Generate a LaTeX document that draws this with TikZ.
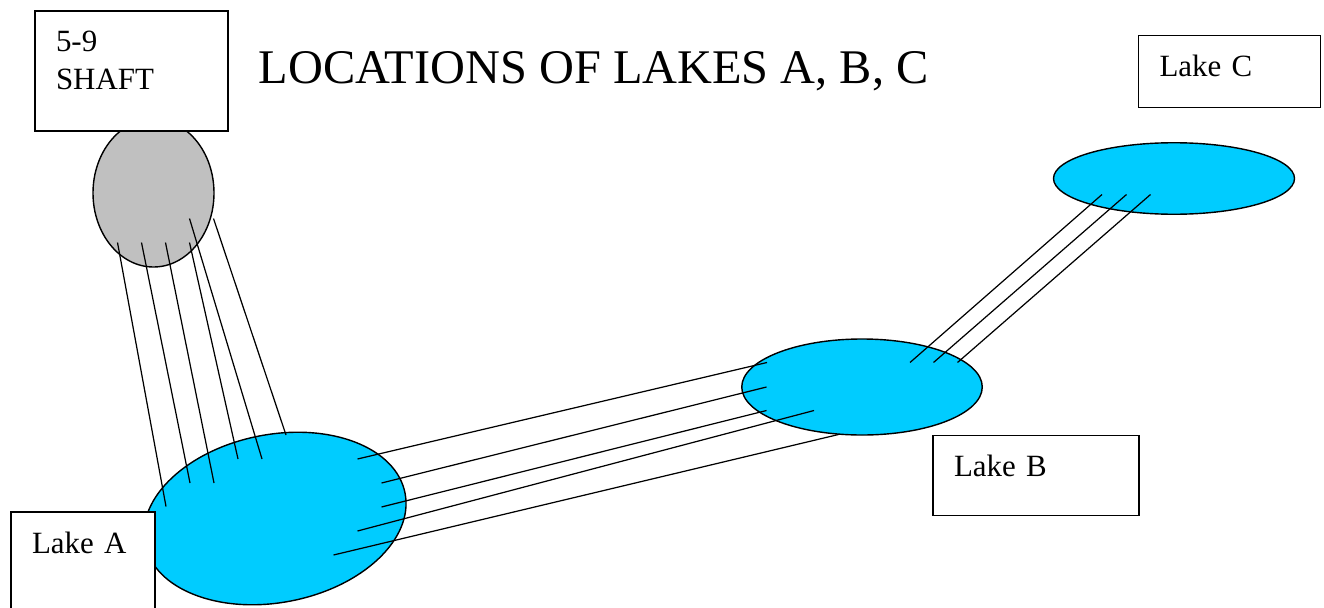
\documentclass[tikz,border=0pt]{standalone}
\usepackage{fontspec}
\setmainfont{Liberation Serif}
\usetikzlibrary{shapes.geometric,calc}
\definecolor{lakeblue}{HTML}{00CCFF}
\definecolor{shaftgray}{HTML}{C0C0C0}

\begin{document}
\begin{tikzpicture}[
  line width=0.8pt,
  lake/.style={ellipse, draw, line width=0.8pt, fill=lakeblue, inner sep=0pt},
  pit/.style={lake, fill=shaftgray},
  labelbox/.style={draw, fill=white, line width=0.8pt, align=left,
    inner xsep=0.42cm, inner ysep=0pt, font=\fontsize{17.6pt}{21.2pt}\selectfont},
  tie/.style={line width=0.7pt},
]
  \useasboundingbox (0,0) rectangle (26.48,12.14);

  % Shaft and lakes
  \node[pit, minimum width=2.42cm, minimum height=2.96cm] (pit) at (3.07,8.28) {};
  \node[lake, minimum width=5.30cm, minimum height=3.36cm, rotate=11] (lakeA) at (5.50,1.77) {};
  \node[lake, minimum width=4.81cm, minimum height=1.92cm] (lakeB) at (17.24,4.40) {};
  \node[lake, minimum width=4.82cm, minimum height=1.43cm] (lakeC) at (23.48,8.57) {};

  % Shaft to Lake A
  \foreach \sx/\sy/\ex/\ey in {-0.72/-0.99/-2.18/0.24, -0.24/-0.99/-1.70/0.71,
      0.24/-0.99/-1.22/0.71, 0.72/-0.99/-0.74/1.19, 0.72/-0.51/-0.26/1.19,
      1.20/-0.51/0.22/1.67}
    \draw[tie] ($(pit)+(\sx,\sy)$) -- ($(lakeA)+(\ex,\ey)$);

  % Lake A to Lake B
  \foreach \sx/\sy/\ex/\ey in {1.65/1.19/-1.90/0.49, 2.13/0.71/-1.91/0,
      2.13/0.23/-1.91/-0.47, 1.65/-0.25/-0.96/-0.47, 1.17/-0.73/-0.47/-0.95}
    \draw[tie] ($(lakeA)+(\sx,\sy)$) -- ($(lakeB)+(\ex,\ey)$);

  % Lake B to Lake C
  \foreach \sx/\sy/\ex/\ey in {0.96/0.49/-1.44/-0.32, 1.43/0.49/-0.95/-0.32,
      1.91/0.49/-0.47/-0.32}
    \draw[tie] ($(lakeB)+(\sx,\sy)$) -- ($(lakeC)+(\ex,\ey)$);

  % Labels
  \node[labelbox, text width=3.02cm, minimum height=2.40cm, text height=0pt,
    text depth=0.76cm] (shaftbox) at (2.63,10.72) {5-9\\SHAFT};
  \node[labelbox, text width=2.04cm, minimum height=2.00cm, text height=0pt,
    text depth=0.35cm] (boxA) at (1.66,0.90) {Lake A};
  \node[labelbox, text width=3.28cm, minimum height=1.61cm, text height=0.03cm,
    text depth=0pt] (boxB) at (20.72,2.63) {Lake B};
  \node[labelbox, text width=2.80cm, minimum height=1.45cm, text height=0.19cm,
    text depth=0pt] (boxC) at (24.59,10.71) {Lake C};

  % Title
  \node[anchor=base west, inner sep=0pt, font=\fontsize{27.5pt}{32pt}\selectfont]
    (title) at (5.16,10.48) {LOCATIONS OF LAKES A, B, C};
\end{tikzpicture}
\end{document}
